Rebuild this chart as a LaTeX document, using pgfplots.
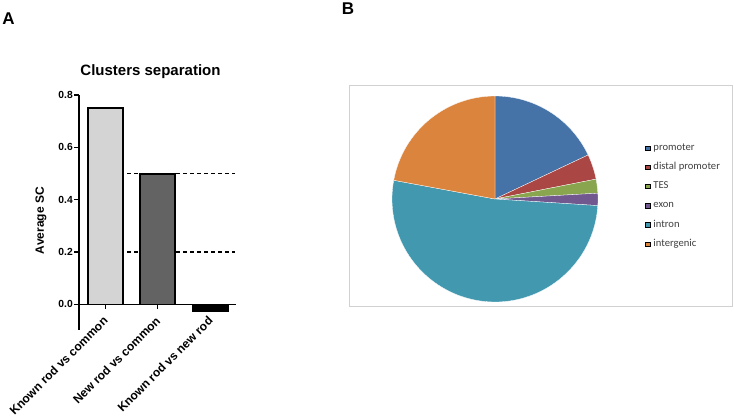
\documentclass[border=0pt]{standalone}
\usepackage{pgfplots}
\pgfplotsset{compat=1.18}
\usepackage{pgfplotstable}
\usepackage{fontspec}
\setmainfont{Liberation Sans}
\newfontfamily\carlito{Carlito}

\definecolor{cProm}{HTML}{4572A7}
\definecolor{cDist}{HTML}{AA4643}
\definecolor{cTES}{HTML}{89A54E}
\definecolor{cExon}{HTML}{71588F}
\definecolor{cIntron}{HTML}{4198AF}
\definecolor{cInter}{HTML}{DB843D}
\definecolor{barLight}{HTML}{D4D4D4}
\definecolor{barDark}{HTML}{636363}

\pgfplotstableread{
x  sc
0  0.751
1  0.498
2  -0.028
}\bartable

\pgfplotstableread{
label pct
promoter 17.97
distal 3.94
TES 2.19
exon 1.92
intron 51.89
intergenic 22.09
}\pietable

\begin{document}
\begin{tikzpicture}
\useasboundingbox (0pt,0pt) rectangle (734pt,-417pt);
\fill[white] (0pt,0pt) rectangle (734pt,-417pt);

% Panel labels
\node[font=\bfseries\fontsize{17}{20}\selectfont] at (8.5pt,-19pt) {A};
\node[font=\bfseries\fontsize{17}{20}\selectfont] at (348pt,-9pt) {B};
\node[font=\bfseries\fontsize{15}{18}\selectfont] at (150.5pt,-71.5pt) {Clusters separation};

\begin{axis}[
  at={(79pt,-304.3pt)}, anchor=south west,
  scale only axis, width=157.5pt, height=209.3pt,
  xmin=-0.5, xmax=2.5, ymin=0, ymax=0.8,
  clip=false,
  axis y line*=left, axis x line*=bottom,
  axis line style={line width=1.6pt, black},
  ytick={0,0.2,0.4,0.6,0.8},
  /pgf/number format/assume math mode=true,
  yticklabel={\pgfmathprintnumber[fixed,fixed zerofill,precision=1]{\tick}},
  yticklabel style={font=\bfseries\fontsize{10.3}{12}\selectfont, inner sep=1.5pt},
  xtick={0,1,2},
  xticklabels={Known rod vs common, New rod vs common, Known rod vs new rod},
  xticklabel style={rotate=45, anchor=north east, inner sep=0pt,
    font=\bfseries\fontsize{12}{14}\selectfont, xshift=-6.7pt, yshift=-2.6pt},
  tick align=outside, major tick length=4.5pt,
  tick style={line width=1.4pt, black},
  xtick style={line width=1.4pt, black},
  ylabel={Average SC},
  ylabel style={at={(axis description cs:-0.241,0.4)}, anchor=center,
    font=\bfseries\fontsize{12}{14}\selectfont},
]
\addplot[black, line width=1.2pt, dash pattern=on 4pt off 3pt] coordinates {(0.42,0.5) (2.48,0.5)};
\addplot[black, line width=1.2pt, dash pattern=on 4pt off 3pt] coordinates {(0.42,0.2) (2.48,0.2)};
\addplot[ybar, bar width=35pt, bar shift=0pt, fill=barLight, draw=black, line width=1.6pt]
  table[x=x, y=sc, restrict expr to domain={\coordindex}{0:0}] {\bartable};
\addplot[ybar, bar width=35pt, bar shift=0pt, fill=barDark, draw=black, line width=1.6pt]
  table[x=x, y=sc, restrict expr to domain={\coordindex}{1:1}] {\bartable};
\addplot[ybar, bar width=35pt, bar shift=0pt, fill=black, draw=black, line width=1.6pt]
  table[x=x, y=sc, restrict expr to domain={\coordindex}{2:2}] {\bartable};
% continuation of the y axis below zero
\draw[black, line width=1.6pt] (axis cs:-0.5,0) -- (axis cs:-0.5,-0.1);
\end{axis}

% Pie panel frame
\draw[black!18, line width=0.9pt] (349pt,-85pt) rectangle (732pt,-306pt);

% cumulative angles (clockwise from 12 o'clock)
\pgfmathsetmacro\angA{90}
\pgfplotstablegetelem{0}{pct}\of\pietable \pgfmathsetmacro\angB{\angA-3.6*\pgfplotsretval}
\pgfplotstablegetelem{1}{pct}\of\pietable \pgfmathsetmacro\angC{\angB-3.6*\pgfplotsretval}
\pgfplotstablegetelem{2}{pct}\of\pietable \pgfmathsetmacro\angD{\angC-3.6*\pgfplotsretval}
\pgfplotstablegetelem{3}{pct}\of\pietable \pgfmathsetmacro\angE{\angD-3.6*\pgfplotsretval}
\pgfplotstablegetelem{4}{pct}\of\pietable \pgfmathsetmacro\angF{\angE-3.6*\pgfplotsretval}
\pgfplotstablegetelem{5}{pct}\of\pietable \pgfmathsetmacro\angG{\angF-3.6*\pgfplotsretval}

\begin{axis}[
  at={(392pt,-302pt)}, anchor=south west,
  scale only axis, width=206pt, height=206pt,
  xmin=-1, xmax=1, ymin=-1, ymax=1,
  hide axis,
  legend image code/.code={\fill[#1] (0pt,-2.2pt) rectangle (4.4pt,2.2pt);},
  legend cell align=left,
  legend style={at={(1.228,0.772)}, anchor=north west, draw=none, fill=none,
    inner sep=0pt, row sep=9.6pt, column sep=3.5pt,
    nodes={inner sep=0pt, text height=7.2pt, text depth=2.4pt},
    font=\carlito\fontsize{10.6}{12}\selectfont, text=black!75},
]
\fill[cProm, draw=white, line width=0.3pt] (axis cs:0,0) -- ++(\angA:103pt) arc[start angle=\angA, end angle=\angB, radius=103pt] -- cycle;
\fill[cDist, draw=white, line width=0.3pt] (axis cs:0,0) -- ++(\angB:103pt) arc[start angle=\angB, end angle=\angC, radius=103pt] -- cycle;
\fill[cTES, draw=white, line width=0.3pt] (axis cs:0,0) -- ++(\angC:103pt) arc[start angle=\angC, end angle=\angD, radius=103pt] -- cycle;
\fill[cExon, draw=white, line width=0.3pt] (axis cs:0,0) -- ++(\angD:103pt) arc[start angle=\angD, end angle=\angE, radius=103pt] -- cycle;
\fill[cIntron, draw=white, line width=0.3pt] (axis cs:0,0) -- ++(\angE:103pt) arc[start angle=\angE, end angle=\angF, radius=103pt] -- cycle;
\fill[cInter, draw=white, line width=0.3pt] (axis cs:0,0) -- ++(\angF:103pt) arc[start angle=\angF, end angle=\angG, radius=103pt] -- cycle;
\addlegendimage{fill=cProm}
\addlegendentry{promoter}
\addlegendimage{fill=cDist}
\addlegendentry{distal promoter}
\addlegendimage{fill=cTES}
\addlegendentry{TES}
\addlegendimage{fill=cExon}
\addlegendentry{exon}
\addlegendimage{fill=cIntron}
\addlegendentry{intron}
\addlegendimage{fill=cInter}
\addlegendentry{intergenic}
\end{axis}
\end{tikzpicture}
\end{document}
